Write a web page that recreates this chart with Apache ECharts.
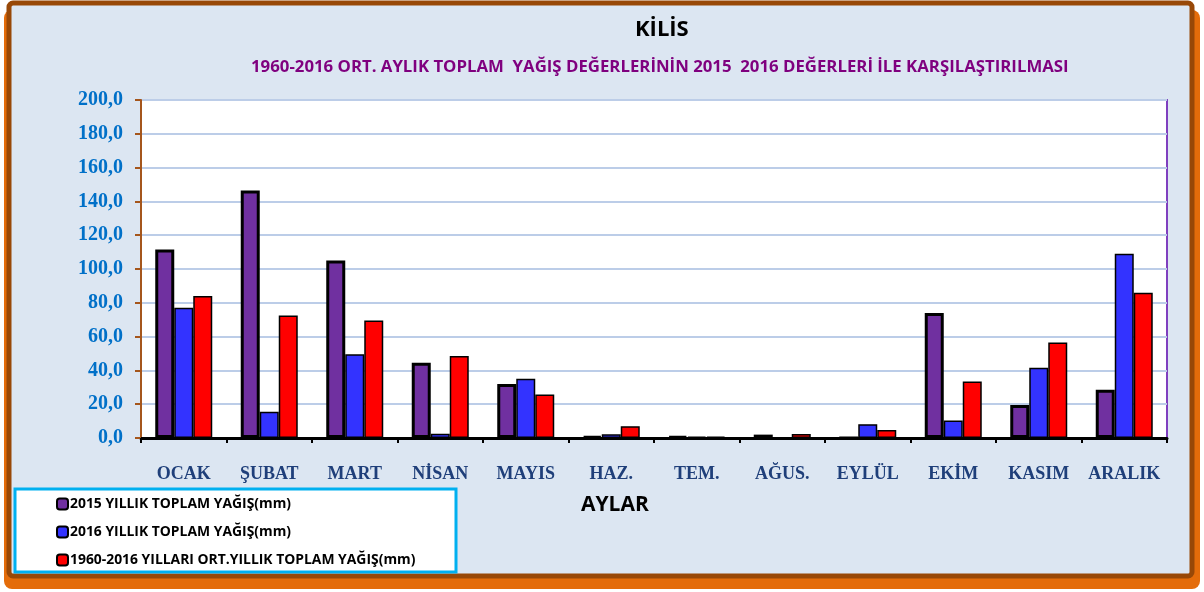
<!DOCTYPE html>
<html>
<head>
<meta charset="utf-8">
<script src="https://cdn.jsdelivr.net/npm/echarts@6/dist/echarts.min.js"></script>
<style>
    html, body { margin: 0; padding: 0; background: #ffffff; }
    #main { width: 1204px; height: 592px; }
</style>
</head>
<body>
<div id="main"></div>
<script>
// aylar
const months = ['OCAK', 'ŞUBAT', 'MART', 'NİSAN', 'MAYIS', 'HAZ.', 'TEM.', 'AĞUS.', 'EYLÜL', 'EKİM', 'KASIM', 'ARALIK'];
// yağış değerleri (mm)
const rain2015 = [111.5, 146.5, 105.0, 44.5, 32.0, 1.0, 1.0, 2.0, 0.0, 74.0, 19.5, 28.5];
const rain2016 = [77.0, 15.5, 49.5, 2.5, 35.0, 2.2, 0.8, 0.3, 8.2, 10.3, 41.5, 109.0];
const rainAvg = [84.0, 72.5, 69.5, 48.5, 25.8, 7.0, 0.8, 2.3, 4.8, 33.5, 56.5, 86.0];
const yTicks = ['0,0', '20,0', '40,0', '60,0', '80,0', '100,0', '120,0', '140,0', '160,0', '180,0', '200,0'];

const chart = echarts.init(document.getElementById('main'));

const option = {
    backgroundColor: '#ffffff',
    animation: false,
    graphic: [
        {
            type: 'rect',
            z: -10,
            shape: { x: 4, y: 10, width: 1196, height: 579, r: 8 },
            style: { fill: '#e46c0a' },
        },
        {
            type: 'rect',
            z: -9,
            shape: { x: 9, y: 3, width: 1183, height: 573, r: 4 },
            style: { fill: '#dce6f2', stroke: '#984807', lineWidth: 5 },
        },
        {
            type: 'rect',
            z: 5,
            shape: { x: 15, y: 489, width: 441, height: 83 },
            style: { fill: '#ffffff', stroke: '#00b0f0', lineWidth: 3 },
        },
        {
            type: 'text',
            left: 581,
            top: 495,
            style: { text: 'AYLAR', font: 'bold 21px "Open Sans"', fill: '#000000' },
        },
    ],
    title: [
        {
            text: 'KİLİS',
            left: 630,
            top: 14,
            textStyle: { fontFamily: 'Open Sans', fontWeight: 'bold', fontSize: 22, color: '#000000' },
        },
        {
            text: '1960-2016 ORT. AYLIK TOPLAM  YAĞIŞ DEĞERLERİNİN 2015  2016 DEĞERLERİ İLE KARŞILAŞTIRILMASI',
            left: 246,
            top: 54,
            textStyle: { fontFamily: 'Open Sans', fontWeight: 'bold', fontSize: 16.8, color: '#7f007f' },
        },
    ],
    legend: {
        orient: 'vertical',
        left: 51,
        top: 491,
        itemWidth: 11,
        itemHeight: 11,
        itemGap: 12,
        z: 10,
        textStyle: {
            fontFamily: 'Open Sans',
            fontWeight: 'bold',
            fontSize: 13.9,
            lineHeight: 16,
            color: '#000000',
            padding: [0, 0, 0, -3],
        },
    },
    grid: {
        left: 141,
        right: 37,
        top: 100,
        bottom: 154,
        show: true,
        backgroundColor: '#ffffff',
        borderColor: '#7f3fbf',
        borderWidth: 2,
    },
    xAxis: {
        type: 'category',
        data: months,
        axisLine: { lineStyle: { color: '#000000', width: 3 } },
        axisTick: { show: true, length: 5, lineStyle: { color: '#000000', width: 2 } },
        axisLabel: {
            interval: 0,
            margin: 27,
            fontFamily: 'Liberation Serif',
            fontWeight: 'bold',
            fontSize: 18,
            color: '#1f3f7a',
        },
    },
    yAxis: {
        type: 'value',
        min: 0,
        max: 200,
        interval: 20,
        axisLine: { show: true, lineStyle: { color: '#a5561c', width: 2 } },
        axisTick: { show: true, length: 6, lineStyle: { color: '#a5561c', width: 2 } },
        splitLine: { lineStyle: { color: '#bccde8', width: 2 } },
        axisLabel: {
            margin: 18,
            fontFamily: 'Liberation Serif',
            fontWeight: 'bold',
            fontSize: 20,
            color: '#0070c8',
            formatter: (v) => yTicks[v / 20],
        },
    },
    series: [
        {
            name: '2015 YILLIK TOPLAM YAĞIŞ(mm)',
            type: 'bar',
            data: rain2015,
            barWidth: 19,
            barGap: '0%',
            itemStyle: { color: '#7030a0', borderColor: '#000000', borderWidth: 3 },
        },
        {
            name: '2016 YILLIK TOPLAM YAĞIŞ(mm)',
            type: 'bar',
            data: rain2016,
            barWidth: 19,
            barGap: '0%',
            itemStyle: { color: '#3333ff', borderColor: '#000000', borderWidth: 1.5 },
        },
        {
            name: '1960-2016 YILLARI ORT.YILLIK TOPLAM YAĞIŞ(mm)',
            type: 'bar',
            data: rainAvg,
            barWidth: 19,
            barGap: '0%',
            itemStyle: { color: '#ff0000', borderColor: '#000000', borderWidth: 1.5 },
        },
    ],
};

chart.setOption(option);
</script>
</body>
</html>
